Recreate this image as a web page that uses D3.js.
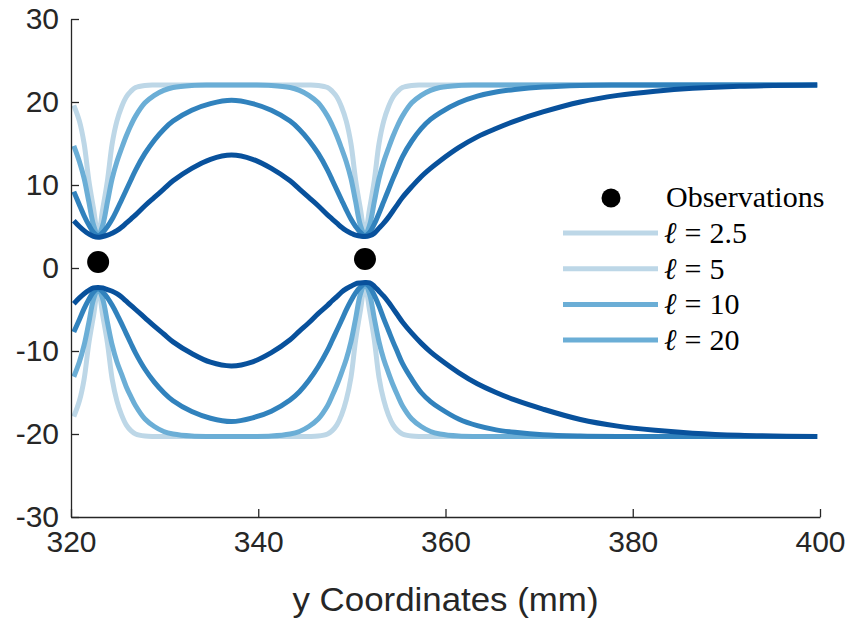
<!DOCTYPE html>
<html><head><meta charset="utf-8">
<script src="https://cdn.jsdelivr.net/npm/d3@7"></script>
<style>html,body{margin:0;padding:0;background:#fff;}svg{display:block;}</style>
</head><body>
<svg id="chart" width="849" height="619"></svg>
<script>
// ---- data ----
const yCoord = [320.3, 320.9, 321.4, 321.9, 322.4, 322.9,
  323.4, 323.9, 324.4, 324.9, 325.4, 325.9, 326.4, 326.9, 327.9, 328.9, 329.9, 330.9, 332.9, 334.9, 337.15,
  339.4, 341.4, 343.4, 344.4, 345.4, 346.4, 347.4, 347.9, 348.4, 348.9, 349.4, 349.9, 350.4, 350.9, 351.4,
  351.9, 352.4, 352.9, 353.4, 353.9, 354.4, 354.9, 355.4, 356.4, 357.4, 358.4, 359.4, 361.4, 363.4, 365.4, 367.4, 370.4, 374.4, 378.4, 382.4, 386.4, 391.4, 399.7];

const upper25 = [19.6, 17.7, 15.0, 10.6, 7.2, 4.0,
  7.2, 10.6, 15.0, 17.7, 19.4, 20.6, 21.3, 21.75, 22.0, 22.05, 22.05, 22.05, 22.05, 22.05, 22.05,
  22.05, 22.05, 22.05, 22.05, 22.05, 22.0, 21.75, 21.3, 20.6, 19.4, 17.7, 15.0, 10.6, 7.2, 4.2,
  7.2, 10.6, 15.0, 17.7, 19.4, 20.6, 21.3, 21.75, 22.0, 22.05, 22.05, 22.05, 22.05, 22.05, 22.05, 22.05, 22.05, 22.05, 22.05, 22.05, 22.05, 22.05, 22.05];
const lower25 = [-17.9, -16.0, -13.4, -9.1, -5.8, -2.6,
  -5.8, -9.1, -13.4, -16.0, -17.7, -18.9, -19.6, -20.0, -20.25, -20.3, -20.3, -20.3, -20.3, -20.3, -20.3,
  -20.3, -20.3, -20.3, -20.3, -20.3, -20.25, -20.0, -19.6, -18.9, -17.7, -15.9, -13.2, -8.7, -5.2, -2.1,
  -5.2, -8.7, -13.2, -15.9, -17.7, -18.9, -19.6, -20.0, -20.25, -20.3, -20.3, -20.3, -20.3, -20.3, -20.3, -20.3, -20.3, -20.3, -20.3, -20.3, -20.3, -20.3, -20.3];

const upper5 = [14.7, 12.8, 10.8, 8.0, 5.2, 3.9,
  5.2, 8.0, 10.8, 12.8, 14.4, 15.9, 17.2, 18.3, 19.9, 20.8, 21.4, 21.75, 22.0, 22.05, 22.05,
  22.05, 22.0, 21.75, 21.4, 20.8, 19.9, 18.3, 17.2, 15.9, 14.4, 12.8, 10.8, 8.0, 5.2, 4.0,
  5.2, 8.0, 10.8, 12.8, 14.4, 15.9, 17.2, 18.3, 19.9, 20.8, 21.4, 21.75, 22.0, 22.05, 22.05, 22.05, 22.05, 22.05, 22.05, 22.05, 22.05, 22.05, 22.05];
const lower5 = [-13.1, -11.3, -9.3, -6.6, -3.8, -2.5,
  -3.8, -6.6, -9.3, -11.3, -12.8, -14.3, -15.5, -16.6, -18.2, -19.1, -19.7, -20.0, -20.25, -20.3, -20.3,
  -20.3, -20.25, -20.0, -19.7, -19.1, -18.2, -16.6, -15.4, -14.1, -12.6, -11.0, -8.9, -6.1, -3.2, -1.9,
  -3.2, -6.1, -8.9, -11.0, -12.6, -14.1, -15.4, -16.6, -18.2, -19.1, -19.7, -20.0, -20.25, -20.3, -20.3, -20.3, -20.3, -20.3, -20.3, -20.3, -20.3, -20.3, -20.3];

const upper10 = [9.2, 7.6, 6.3, 5.2, 4.3, 3.9,
  4.3, 5.0, 5.9, 7.0, 8.2, 9.4, 10.6, 11.8, 13.8, 15.4, 16.7, 17.7, 19.0, 19.8, 20.2,
  19.8, 19.0, 17.7, 16.7, 15.4, 13.8, 11.8, 10.6, 9.4, 8.2, 7.0, 5.9, 5.0, 4.3, 3.9,
  4.3, 5.3, 6.6, 8.0, 9.4, 10.8, 12.1, 13.4, 15.3, 16.8, 17.9, 18.7, 19.9, 20.7, 21.2, 21.5, 21.8, 22.0, 22.05, 22.05, 22.05, 22.05, 22.05];
const lower10 = [-7.7, -6.2, -4.9, -3.8, -2.9, -2.5,
  -2.9, -3.6, -4.5, -5.55, -6.7, -7.9, -9.1, -10.25, -12.2, -13.75, -15.0, -16.0, -17.3, -18.1, -18.5,
  -18.05, -17.25, -15.9, -14.9, -13.55, -11.9, -9.9, -8.7, -7.5, -6.3, -5.05, -3.95, -3.0, -2.3, -1.9,
  -2.3, -3.3, -4.6, -6.1, -7.5, -8.9, -10.2, -11.5, -13.4, -15.0, -16.1, -16.9, -18.2, -19.0, -19.5, -19.8, -20.1, -20.25, -20.3, -20.3, -20.3, -20.3, -20.3];

const upper20 = [5.7, 5.0, 4.5, 4.1, 3.8, 3.7,
  3.8, 3.95, 4.2, 4.5, 4.9, 5.4, 5.9, 6.4, 7.5, 8.5, 9.5, 10.5, 12.0, 13.1, 13.6,
  13.1, 12.0, 10.5, 9.5, 8.5, 7.5, 6.4, 5.9, 5.4, 4.9, 4.5, 4.2, 3.95, 3.85, 3.8,
  3.9, 4.2, 4.8, 5.4, 6.1, 6.9, 7.7, 8.5, 9.8, 11.0, 12.0, 12.9, 14.5, 15.8, 16.8, 17.7, 18.8, 20.0, 20.8, 21.3, 21.65, 21.9, 22.05];
const lower20 = [-4.3, -3.6, -3.1, -2.7, -2.4, -2.35,
  -2.4, -2.6, -2.8, -3.1, -3.5, -4.0, -4.5, -5.0, -6.0, -7.0, -7.95, -8.9, -10.3, -11.35, -11.8,
  -11.3, -10.2, -8.65, -7.6, -6.6, -5.5, -4.5, -3.95, -3.45, -2.9, -2.5, -2.2, -1.9, -1.8, -1.75,
  -1.8, -2.2, -2.8, -3.4, -4.1, -4.9, -5.7, -6.5, -7.85, -9.05, -10.1, -11.0, -12.6, -13.95, -15.0, -15.9, -17.0, -18.25, -19.05, -19.55, -19.9, -20.15, -20.3];

const obsX = [322.9, 351.4];
const obsY = [0.72, 1.08];

const lengthScales = ["2.5", "5", "10", "20"];
const lineColors = ["#bdd7e7", "#6baed6", "#3182bd", "#08519c"];
const legendColors = ["#bdd7e7", "#bdd7e7", "#6baed6", "#6baed6"];
const xTicks = [320, 340, 360, 380, 400];
const yTicks = [-30, -20, -10, 0, 10, 20, 30];
const xLabel = "y Coordinates (mm)";

// ---- drawing ----
const svg = d3.select("#chart");
const axisColor = "#262626";
const sans = "'Liberation Sans', Arial, sans-serif";
const serif = "'Liberation Serif', 'DejaVu Serif', serif";
const x = d3.scaleLinear().domain([320, 400]).range([71, 820]);
const y = d3.scaleLinear().domain([-30, 30]).range([517, 19]);

const bands = [
  [upper25, lower25], [upper5, lower5], [upper10, lower10], [upper20, lower20]
];
const line = d3.line().x(d => x(d[0])).y(d => y(d[1])).curve(d3.curveCatmullRom.alpha(0.5));

const gLines = svg.append("g");
bands.forEach((b, i) => {
  b.forEach(arr => {
    gLines.append("path")
      .attr("d", line(yCoord.map((v, k) => [v, arr[k]])))
      .attr("fill", "none")
      .attr("stroke", lineColors[i])
      .attr("stroke-width", 5)
      .attr("stroke-linejoin", "round");
  });
});

svg.append("g").selectAll("circle").data(obsX).join("circle")
  .attr("cx", d => x(d)).attr("cy", (d, i) => y(obsY[i])).attr("r", 11).attr("fill", "#000");

// axes
const fmt = d => String(d);
const xAxis = d3.axisBottom(x).tickValues(xTicks).tickFormat(fmt).tickSizeInner(-8).tickSizeOuter(0).tickPadding(14);
const yAxis = d3.axisLeft(y).tickValues(yTicks).tickFormat(fmt).tickSizeInner(-8).tickSizeOuter(0).tickPadding(12);
const gx = svg.append("g").attr("transform", "translate(0,517)").call(xAxis);
const gy = svg.append("g").attr("transform", "translate(71,0)").call(yAxis);
[gx, gy].forEach(g => {
  g.select(".domain").attr("stroke", axisColor).attr("stroke-width", 1.3);
  g.selectAll(".tick line").attr("stroke", axisColor).attr("stroke-width", 1.3);
  g.selectAll(".tick text").attr("fill", axisColor)
    .style("font-family", sans).style("font-size", "30px");
});
gx.selectAll(".tick text").attr("dy", "0.71em");

svg.append("text").attr("x", (x(320) + x(400)) / 2).attr("y", 611)
  .attr("text-anchor", "middle").attr("fill", axisColor)
  .attr("textLength", 306).attr("lengthAdjust", "spacingAndGlyphs")
  .style("font-family", sans).style("font-size", "34px")
  .text(xLabel);

// legend
const lg = svg.append("g");
lg.append("circle").attr("cx", 611).attr("cy", 198).attr("r", 9.5).attr("fill", "#000");
lg.append("text").attr("x", 666).attr("y", 207).attr("fill", "#000")
  .style("font-family", serif).style("font-size", "30px").text("Observations");
lengthScales.forEach((s, i) => {
  const ly = 233 + i * 35.7;
  lg.append("line").attr("x1", 563).attr("x2", 658).attr("y1", ly).attr("y2", ly)
    .attr("stroke", legendColors[i]).attr("stroke-width", 5);
  const t = lg.append("text").attr("x", 664).attr("y", ly + 10).attr("fill", "#000")
    .style("font-family", serif).style("font-size", "30px");
  t.append("tspan").style("font-style", "italic").text("\u2113");
  t.append("tspan").attr("dx", 8).text("=");
  t.append("tspan").attr("dx", 8).text(s);
});
</script>
</body></html>
